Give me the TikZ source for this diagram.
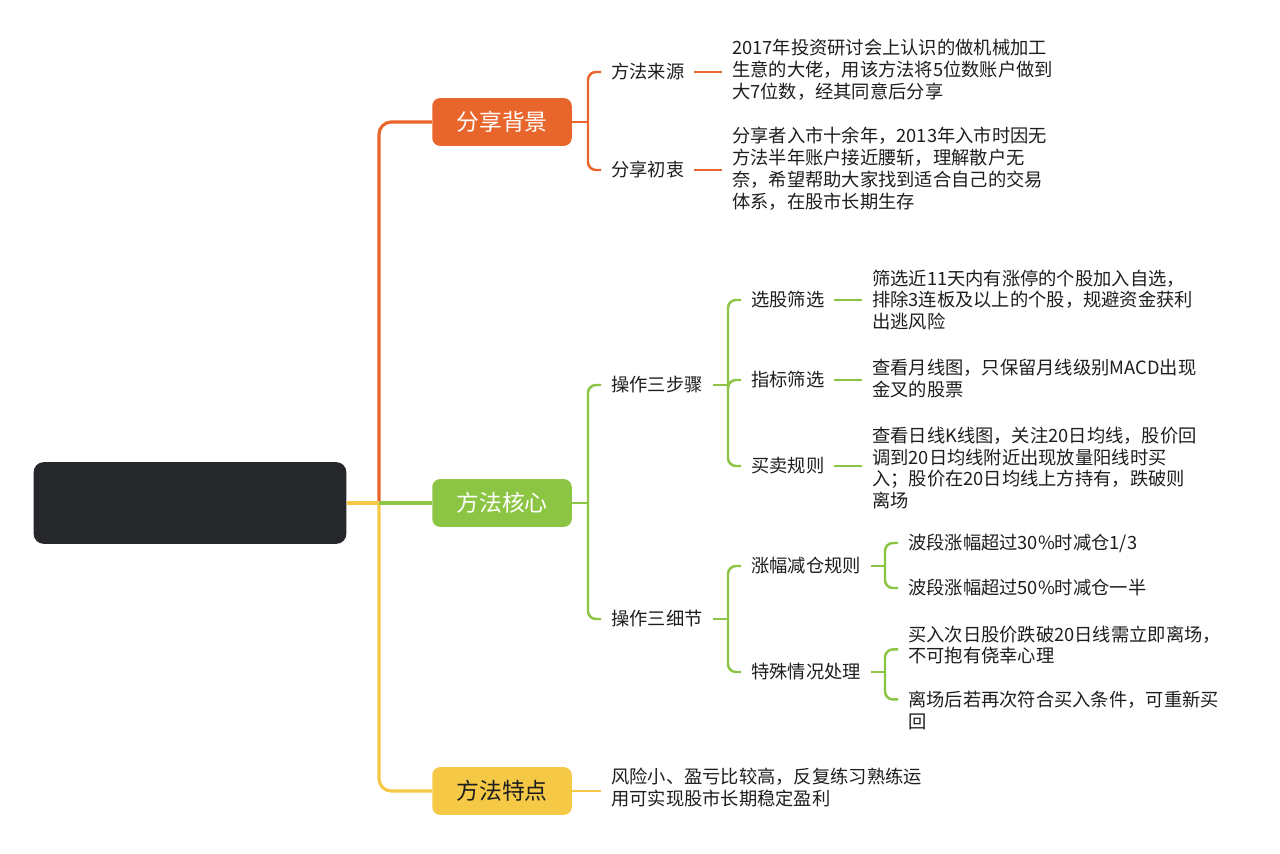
\documentclass[tikz,border=0pt]{standalone}
\usepackage{fontspec}
\setmainfont{Noto Sans CJK SC}
\usetikzlibrary{calc,positioning}
\definecolor{fenorange}{HTML}{E8652C}
\definecolor{fengreen}{HTML}{8CC443}
\definecolor{fenyellow}{HTML}{F5C846}
\definecolor{fendark}{HTML}{26272A}
\definecolor{fentext}{HTML}{1E1E1E}

\begin{document}
\begin{tikzpicture}[x=0.02cm,y=-0.02cm,
        topic/.style={rounded corners=4.5pt,minimum width=79.4pt,minimum height=27.2pt,inner sep=0pt,font=\fontsize{13pt}{14pt}\selectfont},
        branch/.style={anchor=west,inner xsep=5.6pt,inner ysep=2pt,text=fentext,font=\fontsize{10.4pt}{12.5pt}\selectfont},
        leaf/.style={anchor=west,align=left,inner xsep=5.6pt,inner ysep=0pt,text=fentext,font=\fontsize{10.4pt}{12.5pt}\selectfont},
        trunk/.style={line width=1.8pt,rounded corners=7pt},
        twig/.style={line width=1.4pt,rounded corners=4.5pt}]
        \fill[white] (0,0) rectangle (1280,854);
        \useasboundingbox (0,0) rectangle (1280,854);

        \node[fill=fendark,rounded corners=5.7pt,minimum width=178pt,minimum height=46.5pt] (root) at (190,503) {};
        \coordinate (hub) at (379,503);

        \node[topic,fill=fenorange,text=white] (bg) at (502,122) {分享背景};
        \node[topic,fill=fengreen,text=white] (core) at (502,503) {方法核心};
        \node[topic,fill=fenyellow,text=fentext] (feat) at (502,791) {方法特点};

        \draw[trunk,fenorange] (hub) |- (bg.west);
        \draw[trunk,fenyellow] (hub) |- (feat.west);
        \draw[trunk,fenyellow] (root.east) -- (hub);
        \draw[trunk,fengreen] (hub) -- (core.west);

        \node[branch] (src) at (601,72) {方法来源};
        \node[branch] (aim) at (601,170) {分享初衷};
        \node[leaf] (srcleaf) at (722,70) {2017年投资研讨会上认识的做机械加工\\生意的大佬，用该方法将5位数账户做到\\大7位数，经其同意后分享};
        \node[leaf] (aimleaf) at (722,169) {分享者入市十余年，2013年入市时因无\\方法半年账户接近腰斩，理解散户无\\奈，希望帮助大家找到适合自己的交易\\体系，在股市长期生存};
        \draw[twig,fenorange] (bg.east) -- (588,122);
        \draw[twig,fenorange] (588,122) |- (src.west);
        \draw[twig,fenorange] (588,122) |- (aim.west);
        \draw[twig,fenorange] (src.east) -- (src.east -| srcleaf.west);
        \draw[twig,fenorange] (aim.east) -- (aim.east -| aimleaf.west);

        \node[branch] (steps) at (601,385) {操作三步骤};
        \node[branch] (details) at (601,619) {操作三细节};
        \draw[twig,fengreen] (core.east) -- (588,503);
        \draw[twig,fengreen] (588,503) |- (steps.west);
        \draw[twig,fengreen] (588,503) |- (details.west);

        \node[branch] (pick) at (741,300) {选股筛选};
        \node[branch] (ind) at (741,380) {指标筛选};
        \node[branch] (trade) at (741,466) {买卖规则};
        \node[leaf] (pickleaf) at (862,300) {筛选近11天内有涨停的个股加入自选，\\排除3连板及以上的个股，规避资金获利\\出逃风险};
        \node[leaf] (indleaf) at (862,379) {查看月线图，只保留月线级别MACD出现\\金叉的股票};
        \node[leaf] (tradeleaf) at (862,468) {查看日线K线图，关注20日均线，股价回\\调到20日均线附近出现放量阳线时买\\入；股价在20日均线上方持有，跌破则\\离场};
        \draw[twig,fengreen] (steps.east) -- (728,385);
        \draw[twig,fengreen] (728,385) |- (pick.west);
        \draw[twig,fengreen] (728,385) -- (ind.west -| 728,385) -- (ind.west);
        \draw[twig,fengreen] (728,385) |- (trade.west);
        \draw[twig,fengreen] (pick.east) -- (pick.east -| pickleaf.west);
        \draw[twig,fengreen] (ind.east) -- (ind.east -| indleaf.west);
        \draw[twig,fengreen] (trade.east) -- (trade.east -| tradeleaf.west);

        \node[branch] (cut) at (741,566) {涨幅减仓规则};
        \node[branch] (spec) at (741,672) {特殊情况处理};
        \draw[twig,fengreen] (details.east) -- (728,619);
        \draw[twig,fengreen] (728,619) |- (cut.west);
        \draw[twig,fengreen] (728,619) |- (spec.west);

        \node[leaf] (cuta) at (898,543) {波段涨幅超过30\%时减仓1/3};
        \node[leaf] (cutb) at (898,588) {波段涨幅超过50\%时减仓一半};
        \draw[twig,fengreen] (cut.east) -- (885,566);
        \draw[twig,fengreen] (885,566) |- (cuta.west);
        \draw[twig,fengreen] (885,566) |- (cutb.west);

        \node[leaf] (speca) at (898,645) {买入次日股价跌破20日线需立即离场，\\不可抱有侥幸心理};
        \node[leaf] (specb) at (898,710) {离场后若再次符合买入条件，可重新买\\回};
        \draw[twig,fengreen] (spec.east) -- (885,672);
        \draw[twig,fengreen] (885,672) |- ([yshift=-2.5pt]speca.west);
        \draw[twig,fengreen] (885,672) |- ([yshift=6pt]specb.west);

        \node[leaf] (featleaf) at (601,788) {风险小、盈亏比较高，反复练习熟练运\\用可实现股市长期稳定盈利};
        \draw[twig,fenyellow] (feat.east) -- (feat.east -| featleaf.west);
    \end{tikzpicture}
\end{document}
